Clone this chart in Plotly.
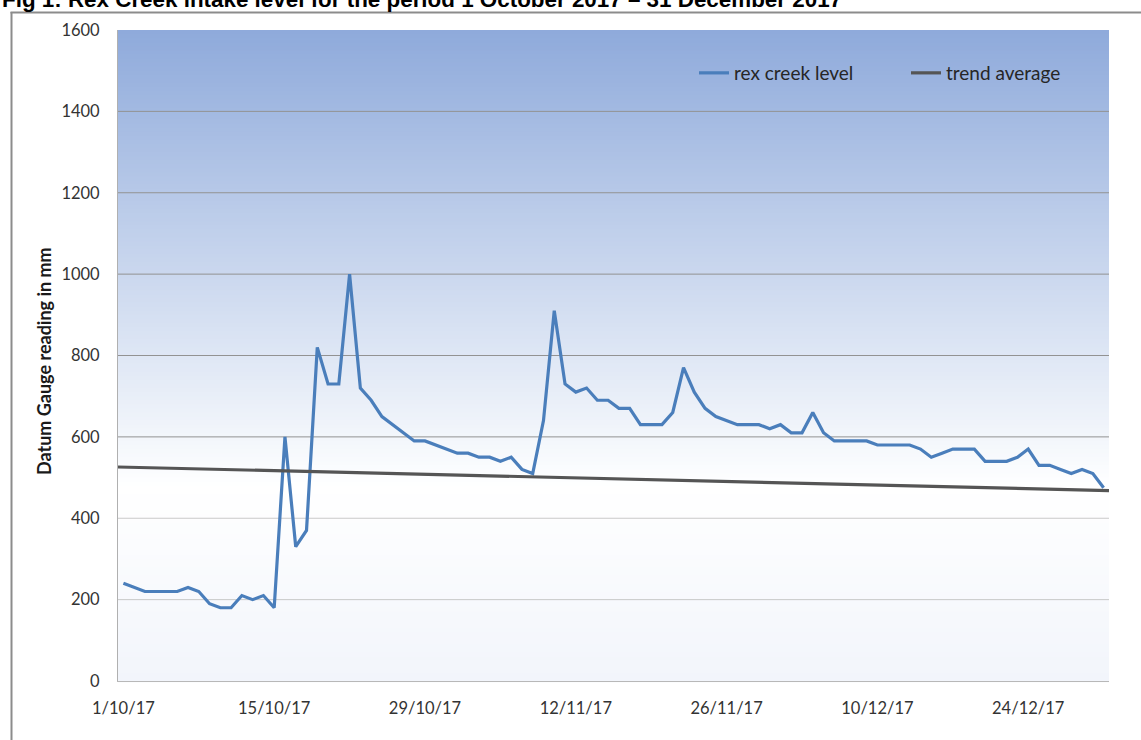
import plotly.graph_objects as go
import pandas as pd

# ---------------- data ----------------
reading_dates = pd.date_range("2017-10-01", "2017-12-31", freq="D")
rex_creek_level = [
    240, 230, 220, 220, 220, 220, 230, 220, 190, 180,
    180, 210, 200, 210, 180, 600, 330, 370, 820, 730,
    730, 1000, 720, 690, 650, 630, 610, 590, 590, 580,
    570, 560, 560, 550, 550, 540, 550, 520, 510, 640,
    910, 730, 710, 720, 690, 690, 670, 670, 630, 630,
    630, 660, 770, 710, 670, 650, 640, 630, 630, 630,
    620, 630, 610, 610, 660, 610, 590, 590, 590, 590,
    580, 580, 580, 580, 570, 550, 560, 570, 570, 570,
    540, 540, 540, 550, 570, 530, 530, 520, 510, 520,
    510, 475,
]
trend_dates = ["2017-09-30 12:00", "2017-12-31 12:00"]
trend_average = [526, 468]

y_tick_values = [0, 200, 400, 600, 800, 1000, 1200, 1400, 1600]
grid_values = [200, 400, 600, 800, 1000, 1200, 1400]
x_tick_dates = ["2017-10-01", "2017-10-15", "2017-10-29", "2017-11-12",
                "2017-11-26", "2017-12-10", "2017-12-24"]
x_tick_labels = ["1/10/17", "15/10/17", "29/10/17", "12/11/17",
                 "26/11/17", "10/12/17", "24/12/17"]

series_names = ["rex creek level", "trend average"]
title_text = "Fig 1: Rex Creek intake level for the period 1 October 2017 \u2013 31 December 2017"
y_title = "Datum Gauge reading in mm"

# ---------------- style ----------------
W, H = 1141, 740
ML, MR, MT, MB = 118, 32, 30, 59
PW, PH = W - ML - MR, H - MT - MB
FONT = "Lato"
TXT = "#333333"

def px_x(px):
    return (px - ML) / PW

def px_y(py):
    return (H - MB - py) / PH

fig = go.Figure()
fig.add_trace(go.Scatter(
    x=reading_dates, y=rex_creek_level, mode="lines", name=series_names[0],
    line=dict(color="#4a7ebb", width=3.2), legend="legend"))
fig.add_trace(go.Scatter(
    x=trend_dates, y=trend_average, mode="lines", name=series_names[1],
    line=dict(color="#555555", width=3.2), legend="legend2"))

shapes = []
# gradient plot background (top -> bottom)
stops = [(0.0, (142, 170, 219)), (0.70, (255, 255, 255)), (1.0, (242, 245, 251))]
N = 160
for j in range(N):
    f = (j + 0.5) / N
    for k in range(len(stops) - 1):
        if stops[k][0] <= f <= stops[k + 1][0]:
            a, ca = stops[k]
            b, cb = stops[k + 1]
            t = (f - a) / (b - a)
            c = tuple(round(ca[i] + (cb[i] - ca[i]) * t) for i in range(3))
            break
    shapes.append(dict(type="rect", xref="paper", yref="paper", layer="below",
                       x0=0, x1=1, y1=1 - j / N, y0=1 - (j + 1) / N - 0.002,
                       fillcolor="rgb(%d,%d,%d)" % c, line=dict(width=0)))
# gridlines
for v in grid_values:
    col = "#c9c9c9" if v <= 400 else "#929292"
    shapes.append(dict(type="line", xref="paper", yref="y", layer="below",
                       x0=0, x1=1, y0=v, y1=v, line=dict(color=col, width=1)))
# outer chart frame (left and top edges)
shapes.append(dict(type="line", xref="paper", yref="paper",
                   x0=px_x(11.5), x1=px_x(11.5), y0=px_y(12), y1=px_y(745),
                   line=dict(color="#8c8c8c", width=2)))
shapes.append(dict(type="line", xref="paper", yref="paper",
                   x0=px_x(10.5), x1=px_x(1145), y0=px_y(12.5), y1=px_y(12.5),
                   line=dict(color="#8c8c8c", width=2)))

annotations = [
    dict(text="<b>%s</b>" % title_text, xref="paper", yref="paper",
         x=px_x(0), y=px_y(14), xanchor="left", yanchor="bottom", showarrow=False,
         font=dict(family="Liberation Sans", size=22.4, color="#000000")),
    dict(text="<b>%s</b>" % y_title, xref="paper", yref="paper",
         x=px_x(44), y=px_y(361), xanchor="center", yanchor="middle",
         textangle=-90, showarrow=False,
         font=dict(family=FONT, size=18, color="#1a1a1a")),
]

fig.update_layout(
    width=W, height=H,
    margin=dict(l=ML, r=MR, t=MT, b=MB, pad=0),
    paper_bgcolor="white", plot_bgcolor="white",
    font=dict(family=FONT, size=16, color=TXT),
    shapes=shapes, annotations=annotations,
    showlegend=True,
    legend=dict(x=px_x(694), y=px_y(73), xanchor="left", yanchor="middle",
                orientation="h", bgcolor="rgba(0,0,0,0)",
                font=dict(family=FONT, size=19, color="#262626")),
    legend2=dict(x=px_x(906), y=px_y(73), xanchor="left", yanchor="middle",
                 orientation="h", bgcolor="rgba(0,0,0,0)",
                 font=dict(family=FONT, size=19, color="#262626")),
    xaxis=dict(type="date", range=["2017-09-30 12:00", "2017-12-31 12:00"],
               tickvals=x_tick_dates, ticktext=x_tick_labels,
               showgrid=False, zeroline=False, ticks="",
               showline=True, linecolor="#b8b8b8", linewidth=1,
               ticklabelstandoff=12, tickfont=dict(size=16.5, color=TXT)),
    yaxis=dict(range=[0, 1600], tickvals=y_tick_values,
               showgrid=False, zeroline=False, ticks="",
               showline=True, linecolor="#b0b0b0", linewidth=1,
               ticklabelstandoff=14, tickfont=dict(size=16.5, color=TXT)),
)

fig.write_html("out.html", config={"displayModeBar": False})
